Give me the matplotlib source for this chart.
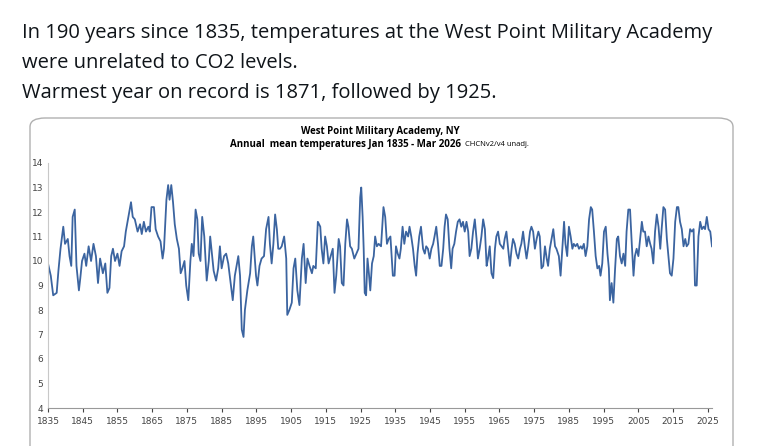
import matplotlib.pyplot as plt
import numpy as np
from matplotlib.patches import FancyBboxPatch

# values (year, annual mean deg C, running)
years = [
    1835.0, 1835.8, 1836.5, 1837.5, 1838.0, 1838.6, 1839.4, 1839.9, 1840.7, 1841.2, 1841.7, 1842.1,
    1842.7, 1843.2, 1843.9, 1844.3, 1844.8, 1845.5, 1846.0, 1846.7, 1847.4, 1848.1, 1848.8, 1849.4,
    1850.0, 1850.8, 1851.5, 1852.1, 1852.7, 1853.2, 1853.7, 1854.3, 1855.0, 1855.6, 1856.2, 1856.9,
    1857.4, 1857.9, 1858.4, 1858.9, 1859.4, 1860.0, 1860.8, 1861.5, 1862.0, 1862.6, 1863.2, 1863.9,
    1864.3, 1864.8, 1865.5, 1866.0, 1866.7, 1867.4, 1868.0, 1868.4, 1869.1, 1869.6, 1870.0, 1870.5,
    1871.0, 1871.5, 1872.1, 1872.7, 1873.2, 1873.7, 1874.3, 1874.8, 1875.4, 1876.0, 1876.4, 1876.9,
    1877.5, 1878.0, 1878.4, 1878.9, 1879.4, 1880.0, 1880.7, 1881.3, 1881.7, 1882.2, 1882.7, 1883.4,
    1884.0, 1884.5, 1885.0, 1885.7, 1886.3, 1886.9, 1887.6, 1888.2, 1888.8, 1889.3, 1889.8, 1890.3,
    1890.8, 1891.3, 1891.7, 1892.4, 1893.2, 1893.7, 1894.1, 1894.9, 1895.3, 1895.9, 1896.5, 1897.2,
    1897.8, 1898.5, 1898.9, 1899.4, 1899.9, 1900.4, 1900.9, 1901.3, 1901.8, 1902.3, 1903.0, 1903.6,
    1903.9, 1904.5, 1905.2, 1905.7, 1906.2, 1906.8, 1907.4, 1908.1, 1908.6, 1909.2, 1909.7, 1910.3,
    1911.0, 1911.4, 1912.1, 1912.7, 1913.4, 1913.8, 1914.3, 1914.8, 1915.3, 1915.8, 1916.4, 1917.0,
    1917.5, 1918.0, 1918.7, 1919.1, 1919.6, 1920.1, 1920.6, 1921.1, 1921.5, 1922.0, 1922.5, 1923.2,
    1923.8, 1924.4, 1924.9, 1925.2, 1925.6, 1925.9, 1926.2, 1926.6, 1927.0, 1927.4, 1927.8, 1928.3,
    1928.8, 1929.2, 1929.7, 1930.2, 1930.9, 1931.6, 1932.1, 1932.6, 1933.1, 1933.6, 1934.0, 1934.3,
    1934.8, 1935.2, 1935.7, 1936.2, 1936.6, 1937.1, 1937.6, 1938.1, 1938.7, 1939.1, 1939.6, 1940.1,
    1940.6, 1941.0, 1941.4, 1941.9, 1942.4, 1943.0, 1943.5, 1943.9, 1944.4, 1944.9, 1945.4, 1945.9,
    1946.3, 1946.8, 1947.3, 1947.8, 1948.3, 1948.8, 1949.2, 1949.6, 1950.1, 1950.6, 1951.1, 1951.5,
    1952.0, 1952.5, 1953.0, 1953.5, 1954.0, 1954.5, 1955.0, 1955.5, 1956.0, 1956.4, 1956.9, 1957.4,
    1957.9, 1958.4, 1958.8, 1959.3, 1959.8, 1960.3, 1960.8, 1961.3, 1961.7, 1962.2, 1962.7, 1963.2,
    1963.7, 1964.1, 1964.6, 1965.1, 1965.6, 1966.1, 1966.5, 1967.0, 1967.5, 1968.0, 1968.5, 1968.9,
    1969.4, 1969.9, 1970.4, 1970.9, 1971.3, 1971.8, 1972.3, 1972.8, 1973.3, 1973.8, 1974.2, 1974.7,
    1975.2, 1975.7, 1976.2, 1976.6, 1977.1, 1977.6, 1978.1, 1978.6, 1979.0, 1979.5, 1980.0, 1980.5,
    1981.0, 1981.4, 1982.1, 1982.6, 1983.1, 1983.6, 1984.0, 1984.5, 1985.0, 1985.5, 1986.0, 1986.4,
    1986.9, 1987.4, 1987.9, 1988.4, 1988.8, 1989.3, 1989.8, 1990.3, 1990.8, 1991.3, 1991.7, 1992.2,
    1992.7, 1993.2, 1993.7, 1994.1, 1994.6, 1995.1, 1995.6, 1996.1, 1996.5, 1996.8, 1997.3, 1997.8,
    1998.3, 1998.8, 1999.2, 1999.7, 2000.2, 2000.7, 2001.2, 2001.6, 2002.1, 2002.6, 2003.1, 2003.6,
    2004.0, 2004.5, 2005.0, 2005.5, 2006.0, 2006.4, 2006.9, 2007.4, 2007.9, 2008.4, 2008.8, 2009.3,
    2009.8, 2010.3, 2010.8, 2011.3, 2011.7, 2012.2, 2012.7, 2013.2, 2013.7, 2014.1, 2014.6, 2015.1,
    2015.6, 2016.1, 2016.5, 2017.0, 2017.5, 2018.0, 2018.5, 2018.9, 2019.4, 2019.9, 2020.4, 2020.9,
    2021.3, 2021.8, 2022.3, 2022.8, 2023.3, 2023.8, 2024.2, 2024.7, 2025.2, 2025.7, 2026.2,
]
temps = [
    9.9, 9.4, 8.6, 8.7, 9.6, 10.5, 11.4, 10.7, 10.9, 10.2, 9.8, 11.8,
    12.1, 9.8, 8.8, 9.3, 10.0, 10.3, 9.8, 10.6, 10.0, 10.7, 10.2, 9.1,
    10.1, 9.5, 9.9, 8.7, 8.9, 10.2, 10.5, 10.0, 10.3, 9.8, 10.4, 10.6,
    11.2, 11.6, 12.0, 12.4, 11.8, 11.7, 11.2, 11.5, 11.1, 11.6, 11.2, 11.4,
    11.2, 12.2, 12.2, 11.3, 11.0, 10.8, 10.1, 10.5, 12.5, 13.1, 12.5, 13.1,
    12.4, 11.5, 10.9, 10.5, 9.5, 9.7, 10.0, 9.0, 8.4, 10.0, 10.7, 10.2,
    12.1, 11.7, 10.3, 10.0, 11.8, 11.0, 9.2, 10.0, 11.0, 10.3, 9.6, 9.2,
    9.7, 10.6, 9.7, 10.2, 10.3, 9.9, 9.1, 8.4, 9.4, 9.8, 10.2, 9.4,
    7.2, 6.9, 8.0, 8.8, 9.5, 10.6, 11.0, 9.4, 9.0, 9.8, 10.1, 10.2,
    11.3, 11.8, 10.7, 9.9, 10.7, 11.9, 11.3, 10.5, 10.5, 10.6, 11.0, 10.1,
    7.8, 8.0, 8.3, 9.7, 10.1, 8.8, 8.2, 10.1, 10.7, 9.1, 10.1, 9.8,
    9.5, 9.8, 9.7, 11.6, 11.4, 10.5, 9.9, 11.0, 10.6, 9.9, 10.2, 10.5,
    8.7, 9.4, 10.9, 10.6, 9.1, 9.0, 10.7, 11.7, 11.4, 10.6, 10.5, 10.1,
    10.3, 10.5, 12.6, 13.0, 11.8, 10.5, 8.7, 8.6, 10.1, 9.5, 8.8, 9.9,
    10.2, 11.0, 10.6, 10.7, 10.6, 12.2, 11.8, 10.7, 10.9, 11.0, 10.1, 9.4,
    9.4, 10.6, 10.3, 10.1, 10.5, 11.4, 10.7, 11.2, 11.0, 11.4, 11.0, 10.5,
    9.8, 9.4, 10.3, 11.0, 11.4, 10.5, 10.3, 10.6, 10.5, 10.1, 10.5, 10.7,
    11.0, 11.4, 10.7, 9.8, 9.8, 10.5, 11.4, 11.9, 11.7, 10.5, 9.7, 10.5,
    10.7, 11.2, 11.6, 11.7, 11.4, 11.6, 11.2, 11.6, 11.2, 10.2, 10.5, 11.2,
    11.7, 10.9, 10.1, 10.5, 11.0, 11.7, 11.3, 9.8, 10.1, 10.6, 9.5, 9.3,
    10.5, 11.0, 11.2, 10.7, 10.6, 10.5, 10.9, 11.2, 10.5, 9.8, 10.5, 10.9,
    10.7, 10.3, 10.1, 10.5, 10.7, 11.2, 10.6, 10.1, 10.6, 11.2, 11.4, 11.2,
    10.5, 10.9, 11.2, 11.0, 9.7, 9.8, 10.6, 10.1, 9.8, 10.5, 10.9, 11.3,
    10.6, 10.5, 10.2, 9.4, 10.5, 11.6, 10.7, 10.2, 11.4, 11.0, 10.5, 10.7,
    10.6, 10.7, 10.5, 10.6, 10.5, 10.7, 10.2, 10.6, 11.7, 12.2, 12.1, 11.2,
    10.2, 9.7, 9.8, 9.4, 9.9, 11.2, 11.4, 10.3, 9.7, 8.4, 9.1, 8.3,
    9.7, 10.9, 11.0, 10.2, 9.9, 10.3, 9.8, 11.2, 12.1, 12.1, 10.7, 9.4,
    10.2, 10.5, 10.2, 10.9, 11.6, 11.2, 11.2, 10.6, 11.0, 10.7, 10.5, 9.9,
    11.2, 11.9, 11.4, 10.5, 11.3, 12.2, 12.1, 10.9, 10.1, 9.5, 9.4, 10.1,
    11.6, 12.2, 12.2, 11.6, 11.3, 10.6, 10.9, 10.6, 10.7, 11.3, 11.2, 11.3,
    9.0, 9.0, 11.0, 11.6, 11.3, 11.4, 11.3, 11.8, 11.3, 11.2, 10.6,
]
x_ticks = list(range(1835, 2026, 10))
y_ticks = list(range(4, 15))

tweet_lines = [
    'In 190 years since 1835, temperatures at the West Point Military Academy',
    'were unrelated to CO2 levels.',
    'Warmest year on record is 1871, followed by 1925.',
]

W, H = 757, 446
fig = plt.figure(figsize=(W / 100, H / 100), dpi=100)
fig.patch.set_facecolor('white')

# tweet text above the chart
for i, line in enumerate(tweet_lines):
    fig.text(22 / W, 1 - (38 + i * 30) / H, line, fontsize=14.5, family='Open Sans',
             color='#0f1419', va='baseline')

# rounded chart frame, kept behind the axes
frame = FancyBboxPatch((30 / W, -0.05), 703 / W, 1.05 - 118 / H,
                       boxstyle='round,pad=0,rounding_size=0.02', transform=fig.transFigure,
                       facecolor='white', edgecolor='#b0b0b0', lw=1.0, zorder=-5)
fig.patches.append(frame)

fig.text(380 / W, 1 - 131 / H, 'West Point Military Academy, NY', ha='center', va='center',
         fontsize=7, fontweight='bold', family='Open Sans')
sub = fig.text(230 / W, 1 - 145 / H, 'Annual  mean temperatures Jan 1835 - Mar 2026', ha='left',
               va='center', fontsize=7, fontweight='bold', family='Open Sans')

ax = fig.add_axes([48 / W, 1 - 408 / H, 664 / W, 245 / H])
ax.patch.set_visible(False)
ax.annotate('CHCNv2/v4 unadj.', xy=(1, 0.5), xycoords=sub, xytext=(3, 0),
            textcoords='offset points', va='center', ha='left', fontsize=5.5,
            family='Open Sans', annotation_clip=False)
ax.plot(years, temps, color='#3b64a0', lw=1.3)
ax.set_xlim(1835, 2026.2)
ax.set_ylim(4, 14)
ax.set_xticks(x_ticks)
ax.set_yticks(y_ticks)
ax.tick_params(axis='both', labelsize=6.5, colors='#444444', length=3)
ax.tick_params(axis='y', length=0)
for side in ['top', 'right']:
    ax.spines[side].set_visible(False)
ax.spines['left'].set_color('#c8c8c8')
ax.spines['bottom'].set_color('#999999')

fig.savefig('out.png', dpi=100)
